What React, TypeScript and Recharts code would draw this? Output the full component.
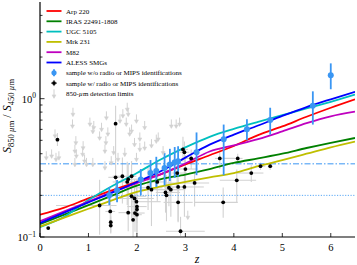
import React from 'react';
import { ComposedChart, Line, Scatter, XAxis, YAxis, ErrorBar, ReferenceLine, Legend } from 'recharts';

const W = 357;
const H = 265;
const FONT = "'Liberation Serif','Times New Roman',serif";

// model curves
const curveZ = [0, 0.5, 1, 1.5, 2, 2.5, 3, 3.5, 4, 4.5, 5, 5.5, 6, 6.5];
const arp220 = [0.145, 0.163, 0.19, 0.218, 0.25, 0.285, 0.335, 0.39, 0.455, 0.545, 0.63, 0.74, 0.86, 0.99];
const iras22491 = [0.124, 0.145, 0.17, 0.2, 0.235, 0.262, 0.283, 0.31, 0.343, 0.37, 0.4, 0.44, 0.48, 0.52];
const ugc5105 = [0.118, 0.14, 0.185, 0.235, 0.29, 0.365, 0.445, 0.53, 0.605, 0.68, 0.76, 0.85, 0.95, 1.07];
const mrk231 = [0.119, 0.138, 0.16, 0.185, 0.212, 0.232, 0.25, 0.27, 0.29, 0.325, 0.36, 0.4, 0.445, 0.49];
const m82 = [0.13, 0.153, 0.18, 0.212, 0.245, 0.285, 0.34, 0.415, 0.46, 0.51, 0.58, 0.665, 0.745, 0.805];
const aless = [0.126, 0.15, 0.178, 0.21, 0.25, 0.3, 0.375, 0.465, 0.55, 0.64, 0.75, 0.87, 0.99, 1.12];

// sample without radio / MIPS identifications
const blueZ = [1.43, 1.59, 2.08, 2.28, 2.40, 2.57, 2.68, 2.78, 2.85, 3.23, 3.79, 4.27, 4.75, 5.63, 6.0];
const blueV = [0.20, 0.218, 0.26, 0.29, 0.30, 0.316, 0.334, 0.347, 0.353, 0.41, 0.51, 0.60, 0.70, 0.89, 1.48];
const blueLo = [0.03, 0.04, 0.06, 0.07, 0.07, 0.08, 0.08, 0.08, 0.08, 0.13, 0.23, 0.1, 0.15, 0.24, 0.31];
const blueHi = [0.03, 0.04, 0.05, 0.07, 0.08, 0.09, 0.1, 0.1, 0.1, 0.16, 0.14, 0.11, 0.16, 0.24, 0.32];

// sample with radio / MIPS identifications
const blackZ = [0.17, 0.36, 1.23, 1.45, 1.46, 1.46, 1.56, 1.56, 1.70, 1.80, 1.82, 1.82, 1.89, 1.89, 1.92, 1.95, 1.96, 1.99, 2.00, 2.00, 2.00, 2.23, 2.30, 2.42, 2.59, 2.61, 2.66, 2.70, 2.83, 2.85, 2.85, 2.90, 2.95, 2.98, 3.00, 2.98, 3.12, 3.19, 3.71, 3.78, 4.06, 4.08, 4.36, 4.55, 4.75];
const blackV = [0.116, 0.505, 0.169, 0.153, 0.128, 0.121, 0.66, 0.27, 0.275, 0.25, 0.262, 0.15, 0.275, 0.197, 0.133, 0.19, 0.149, 0.18, 0.166, 0.158, 0.145, 0.227, 0.22, 0.25, 0.21, 0.2, 0.227, 0.22, 0.29, 0.23, 0.178, 0.11, 0.43, 0.41, 0.31, 0.23, 0.37, 0.246, 0.37, 0.178, 0.257, 0.37, 0.29, 0.325, 0.325];
const blackXLo = [0, 0, 0.9, 0.1, 0, 0, 0, 0.15, 0.2, 0.3, 0.15, 0.2, 0.1, 0.2, 0, 0.3, 0.1, 0.1, 0.2, 0, 0.1, 0.3, 0.2, 0.2, 0.2, 0.1, 0.1, 0.3, 0.1, 0.15, 0.3, 0.3, 0.1, 0.1, 0.25, 0.2, 0.2, 0.6, 0.1, 0.6, 0.35, 0.3, 0.3, 0.1, 0.05];
const blackXHi = [0, 0, 0.35, 0.1, 0, 0, 0, 0.15, 0.2, 0.3, 0.2, 0.2, 0.1, 0.3, 0, 0.4, 0.2, 0.5, 0.2, 0, 0.1, 0.3, 0.6, 0.2, 0.3, 0.1, 0.1, 0.3, 0.2, 0.15, 0.3, 0.5, 0.1, 0.1, 0.25, 0.4, 0.2, 0.3, 0.3, 0.3, 0.4, 0.1, 0.25, 0.1, 0.05];
const blackYLo = [0, 0.05, 0.065, 0.03, 0.02, 0.015, 0.29, 0.08, 0.1, 0.08, 0.06, 0.04, 0.06, 0.06, 0.033, 0.05, 0.04, 0.05, 0.04, 0.05, 0.04, 0.07, 0.1, 0.07, 0.06, 0.07, 0.06, 0.08, 0.06, 0.1, 0.05, 0.008, 0.08, 0.08, 0.07, 0.09, 0.06, 0.08, 0.06, 0.04, 0.08, 0.03, 0.04, 0.02, 0.02];
const blackYHi = [0, 0.06, 0.09, 0.05, 0.03, 0.02, 0.23, 0.1, 0.1, 0.1, 0.08, 0.07, 0.08, 0.08, 0.06, 0.07, 0.06, 0.08, 0.06, 0.06, 0.05, 0.09, 0.09, 0.1, 0.08, 0.08, 0.08, 0.09, 0.08, 0.07, 0.08, 0.03, 0.1, 0.08, 0.08, 0.07, 0.06, 0.05, 0.07, 0.05, 0.05, 0.03, 0.04, 0.02, 0.02];

// 850-um detection limits (upper limits)
const limZ = [0.13, 0.24, 0.31, 0.33, 0.39, 0.67, 0.68, 0.72, 0.72, 0.74, 0.75, 0.88, 0.89, 0.92, 0.96, 1.03, 1.09, 1.09, 1.11, 1.23, 1.27, 1.34, 1.34, 1.36, 1.37, 1.40, 1.47, 1.52, 1.61, 1.65, 1.71, 1.75, 1.78, 1.80, 1.82, 1.85, 1.89, 1.95, 1.99, 1.99, 2.06, 2.06, 2.16, 2.16, 2.30, 2.40, 2.44, 2.54, 2.71, 2.81, 2.88, 3.05];
const limV = [0.417, 0.43, 0.6, 0.406, 0.417, 0.708, 0.86, 0.466, 0.373, 0.536, 0.43, 0.442, 0.493, 0.395, 0.373, 0.73, 0.645, 0.373, 0.69, 0.58, 0.67, 0.466, 0.353, 0.536, 0.81, 0.62, 0.384, 0.454, 0.406, 0.77, 0.84, 0.442, 0.73, 0.935, 0.86, 0.62, 0.65, 0.52, 0.77, 0.406, 0.57, 0.48, 0.69, 0.49, 0.51, 0.55, 0.57, 0.454, 0.708, 0.708, 0.73, 0.155];

const xTicks = [0, 1, 2, 3, 4, 5, 6];
const yTicks = [0.1, 0.2, 0.3, 0.4, 0.5, 0.6, 0.7, 0.8, 0.9, 1, 2, 3, 4];
const yMajorLabels: Record<string, string> = { '0.1': '−1', '1': '0' };

const dashDotLevel = 0.338;
const dottedLevel = 0.2;

const seriesNames = ['Arp 220', 'IRAS 22491-1808', 'UGC 5105', 'Mrk 231', 'M82', 'ALESS SMGs'];
const seriesColors = ['#ff0000', '#008000', '#00bfbf', '#bfbf00', '#bf00bf', '#0000ff'];
const seriesValues = [arp220, iras22491, ugc5105, mrk231, m82, aless];

const BLUE_PT = '#3a96f3';
const GRAY = '#d2d2d2';

const curveData = seriesValues.map((vals) => curveZ.map((z, i) => ({ z, v: vals[i] })));
const blueData = blueZ.map((z, i) => ({ z, v: blueV[i], ey: [blueLo[i], blueHi[i]] }));
const blackData = blackZ.map((z, i) => ({
  z,
  v: blackV[i],
  ex: [blackXLo[i], blackXHi[i]],
  ey: [blackYLo[i], blackYHi[i]],
}));
const limData = limZ.map((z, i) => ({ z, v: limV[i] }));

const Arrow = (p: any) => {
  const { cx, cy } = p;
  if (cx == null || cy == null) return <g />;
  return (
    <g stroke={GRAY} strokeWidth={1} fill={GRAY}>
      <line x1={cx} y1={cy} x2={cx} y2={cy + 8} />
      <polygon points={`${cx - 2},${cy + 5.5} ${cx + 2},${cy + 5.5} ${cx},${cy + 9}`} strokeWidth={0.5} />
    </g>
  );
};

const BlackDot = (p: any) => {
  const { cx, cy } = p;
  if (cx == null || cy == null) return <g />;
  return <circle cx={cx} cy={cy} r={1.9} fill="#000" />;
};

const BlueDot = (p: any) => {
  const { cx, cy } = p;
  if (cx == null || cy == null) return <g />;
  return <circle cx={cx} cy={cy} r={3} fill={BLUE_PT} />;
};

const Empty = () => <g />;

const XTick = (p: any) => {
  const { x, y, payload } = p;
  return (
    <g>
      <line x1={x} x2={x} y1={y} y2={y - 4} stroke="#000" strokeWidth={0.8} />
      <text x={x} y={y + 14} textAnchor="middle" fontFamily={FONT} fontSize={10.5} fill="#000">
        {payload.value}
      </text>
    </g>
  );
};

const YTick = (p: any) => {
  const { x, y, payload } = p;
  const v = payload.value;
  const lab = yMajorLabels[String(v)];
  const major = lab !== undefined;
  return (
    <g>
      <line x1={x} x2={x + (major ? 4.5 : 2.5)} y1={y} y2={y} stroke="#000" strokeWidth={0.8} />
      {major && (
        <text x={x - 4} y={y + 4} textAnchor="end" fontFamily={FONT} fontSize={10.5} fill="#000">
          10
          <tspan dy={-4.5} fontSize={7.5}>
            {lab}
          </tspan>
        </text>
      )}
    </g>
  );
};

const YLabel = () => (
  <text transform="translate(11,116) rotate(-90)" textAnchor="middle" fontFamily={FONT} fill="#000" fontSize={12}>
    <tspan fontStyle="italic">S</tspan>
    <tspan fontSize={8.5} dy={2.5}>850 </tspan>
    <tspan fontSize={8.5} fontStyle="italic">µ</tspan>
    <tspan fontSize={8.5}>m</tspan>
    <tspan dy={-2.5}> / </tspan>
    <tspan fontStyle="italic">S</tspan>
    <tspan fontSize={8.5} dy={2.5}>450 </tspan>
    <tspan fontSize={8.5} fontStyle="italic">µ</tspan>
    <tspan fontSize={8.5}>m</tspan>
  </text>
);

const XLabel = () => (
  <text x={197} y={263} textAnchor="middle" fontFamily={FONT} fontStyle="italic" fontSize={12} fill="#000">
    z
  </text>
);

const LegendBox = () => {
  const rowY = (i: number) => 11 + i * 10.3;
  const lx1 = 46.5;
  const lx2 = 61.5;
  const tx = 66;
  const textProps = { fontFamily: FONT, fontSize: 7, fill: '#000' };
  return (
    <svg width={200} height={100} style={{ display: 'block' }}>
      {seriesNames.map((n, i) => (
        <g key={n}>
          <line x1={lx1} x2={lx2} y1={rowY(i)} y2={rowY(i)} stroke={seriesColors[i]} strokeWidth={1.8} />
          <text x={tx} y={rowY(i) + 2.5} {...textProps}>
            {n}
          </text>
        </g>
      ))}
      <g>
        <line x1={54} x2={54} y1={rowY(6) - 3.5} y2={rowY(6) + 3.5} stroke={BLUE_PT} strokeWidth={1.8} />
        <circle cx={54} cy={rowY(6)} r={2.6} fill={BLUE_PT} />
        <text x={tx} y={rowY(6) + 2.5} {...textProps}>
          sample w/o radio or MIPS identifications
        </text>
      </g>
      <g>
        <line x1={51} x2={57} y1={rowY(7)} y2={rowY(7)} stroke="#000" strokeWidth={0.8} />
        <line x1={54} x2={54} y1={rowY(7) - 3} y2={rowY(7) + 3} stroke="#000" strokeWidth={0.8} />
        <circle cx={54} cy={rowY(7)} r={1.9} fill="#000" />
        <text x={tx} y={rowY(7) + 2.5} {...textProps}>
          sample w/ radio or MIPS identifications
        </text>
      </g>
      <g>
        <Arrow cx={54} cy={rowY(8) - 4} />
        <text x={tx} y={rowY(8) + 2.5} {...textProps}>
          850-<tspan fontStyle="italic">µ</tspan>m detection limits
        </text>
      </g>
    </svg>
  );
};

export default function App() {
  return (
    <div style={{ position: 'absolute', left: 0, top: 0, width: W, height: H, background: '#fff' }}>
      <ComposedChart width={W} height={H} margin={{ top: 2, right: 2, bottom: 0, left: 0 }}>
        <XAxis
          dataKey="z"
          type="number"
          domain={[0, 6.5]}
          allowDataOverflow
          ticks={xTicks}
          interval={0}
          height={28}
          tickSize={0}
          tickMargin={0}
          tickLine={false}
          axisLine={{ stroke: '#000', strokeWidth: 1.2 }}
          tick={(p: any) => <XTick {...p} />}
          label={<XLabel />}
        />
        <XAxis
          xAxisId="top"
          orientation="top"
          type="number"
          domain={[0, 6.5]}
          height={0}
          tick={false}
          tickLine={false}
          axisLine={{ stroke: '#000', strokeWidth: 1.2 }}
        />
        <YAxis
          dataKey="v"
          type="number"
          scale="log"
          domain={[0.1, 5]}
          allowDataOverflow
          ticks={yTicks}
          interval={0}
          width={40}
          tickSize={0}
          tickMargin={0}
          tickLine={false}
          axisLine={{ stroke: '#000', strokeWidth: 1.2 }}
          tick={(p: any) => <YTick {...p} />}
          label={<YLabel />}
        />
        <YAxis
          yAxisId="right"
          orientation="right"
          type="number"
          domain={[0, 1]}
          width={0}
          tick={false}
          tickLine={false}
          axisLine={{ stroke: '#000', strokeWidth: 1.2 }}
        />
        <Scatter data={limData} dataKey="v" shape={(p: any) => <Arrow {...p} />} isAnimationActive={false} legendType="none" />
        <Scatter data={blackData} dataKey="v" shape={() => <Empty />} isAnimationActive={false} legendType="none">
          <ErrorBar dataKey="ex" direction="x" width={0} stroke={GRAY} strokeWidth={1.1} isAnimationActive={false} />
          <ErrorBar dataKey="ey" direction="y" width={0} stroke={GRAY} strokeWidth={1.1} isAnimationActive={false} />
        </Scatter>
        <ReferenceLine y={dashDotLevel} stroke="#3a96f3" strokeWidth={1} strokeDasharray="6 2 1.5 2" />
        <ReferenceLine y={dottedLevel} stroke="#5aa8f5" strokeWidth={1} strokeDasharray="1.2 1.5" />
        {seriesNames.map((n, i) => (
          <Line
            key={n}
            data={curveData[i]}
            dataKey="v"
            type="monotone"
            stroke={seriesColors[i]}
            strokeWidth={1.8}
            dot={false}
            activeDot={false}
            isAnimationActive={false}
          />
        ))}
        <Scatter data={blackData} dataKey="v" shape={(p: any) => <BlackDot {...p} />} isAnimationActive={false} legendType="none" />
        <Scatter data={blueData} dataKey="v" shape={(p: any) => <BlueDot {...p} />} isAnimationActive={false} legendType="none">
          <ErrorBar dataKey="ey" direction="y" width={0} stroke={BLUE_PT} strokeWidth={1.8} isAnimationActive={false} />
        </Scatter>
        <Legend
          layout="vertical"
          align="center"
          verticalAlign="middle"
          content={() => <LegendBox />}
          wrapperStyle={{ position: 'absolute', left: 0, top: 0, width: 200, height: 100, margin: 0, padding: 0 }}
        />
      </ComposedChart>
    </div>
  );
}
